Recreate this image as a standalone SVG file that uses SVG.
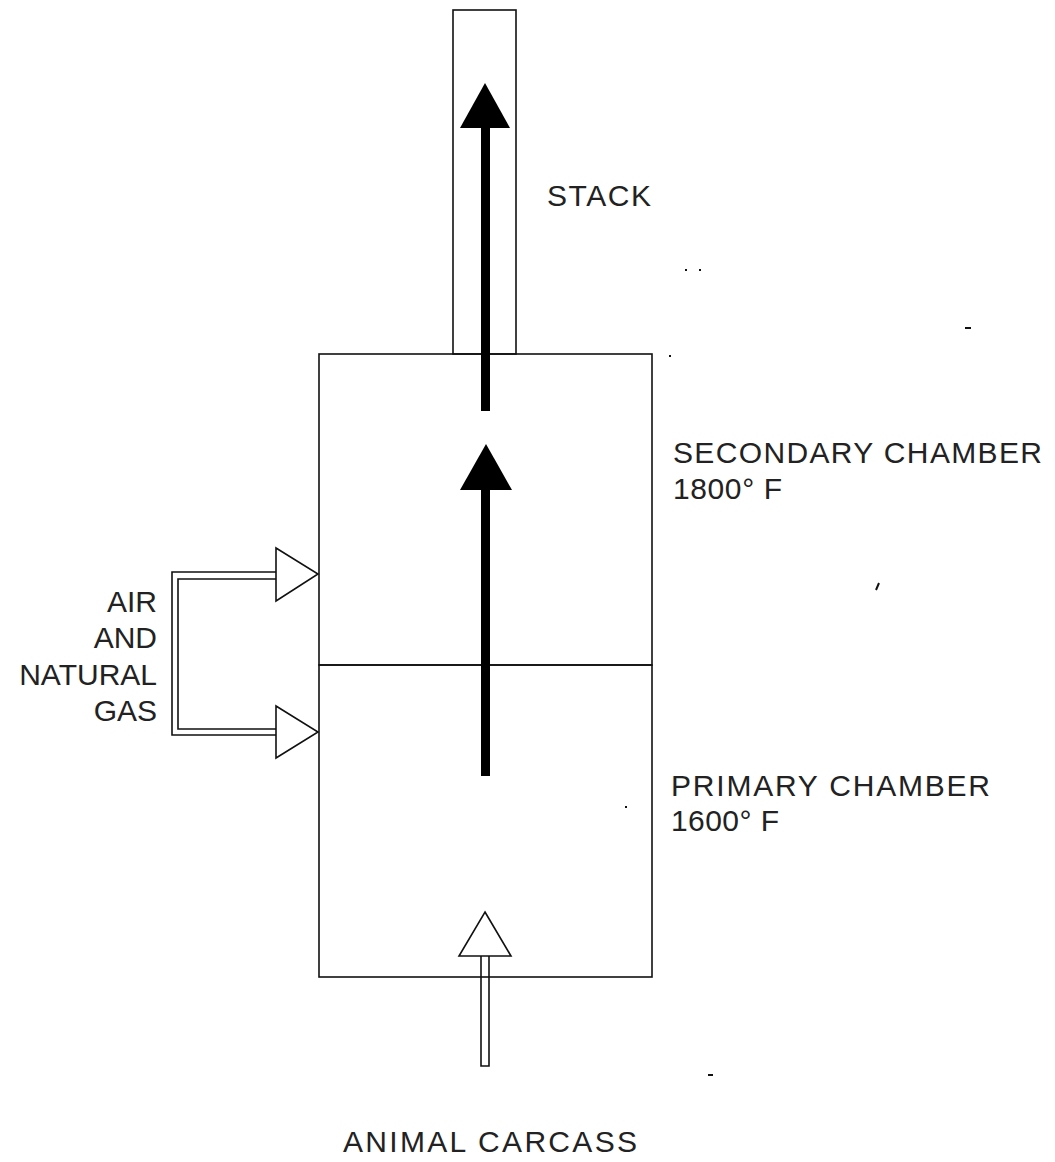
<svg xmlns="http://www.w3.org/2000/svg" width="1055" height="1162" viewBox="0 0 1055 1162">
<style>
.ln{fill:none;stroke:#111;stroke-width:1.6}
.open{fill:#fff;stroke:#111;stroke-width:1.6;stroke-linejoin:miter}
.solid{fill:#000;stroke:none}
.t{font-family:"Liberation Sans",Arial,sans-serif;font-size:30px;fill:#222;font-weight:normal}
.mark{stroke:#111;stroke-width:2;fill:none}
</style>
<rect width="1055" height="1162" fill="#fff"/>
<g id="stack">
<rect class="ln" x="453" y="10" width="63" height="344"/>
<text class="t" x="547" y="206" textLength="104" lengthAdjust="spacing">STACK</text>
</g>
<g id="secondary-chamber">
<rect class="ln" x="319" y="354" width="333" height="311"/>
<text class="t" x="673" y="463" textLength="369" lengthAdjust="spacing">SECONDARY CHAMBER</text>
<text class="t" x="673" y="499" textLength="109" lengthAdjust="spacing">1800° F</text>
</g>
<g id="primary-chamber">
<rect class="ln" x="319" y="665" width="333" height="312"/>
<text class="t" x="671" y="796" textLength="319" lengthAdjust="spacing">PRIMARY CHAMBER</text>
<text class="t" x="671" y="831" textLength="108" lengthAdjust="spacing">1600° F</text>
</g>
<g id="air-gas">
<text class="t" x="157" y="612" text-anchor="end">AIR</text>
<text class="t" x="157" y="648" text-anchor="end">AND</text>
<text class="t" x="157" y="685" text-anchor="end">NATURAL</text>
<text class="t" x="157" y="721" text-anchor="end">GAS</text>
</g>
<g id="carcass">
<text class="t" x="343" y="1152" textLength="294" lengthAdjust="spacing">ANIMAL CARCASS</text>
</g>
<g id="connectors">
<!-- flue gas arrows -->
<rect class="solid" x="481" y="125" width="9" height="286"/>
<polygon class="solid" points="485,83 510,128 460,128"/>
<rect class="solid" x="481" y="486" width="9" height="290"/>
<polygon class="solid" points="486,444 512,490 460,490"/>
<!-- air and gas pipe -->
<path class="ln" d="M276,572 H172 V735 H276 M276,579 H178 V729 H276"/>
<polygon class="open" points="276,548 318,574 276,601"/>
<polygon class="open" points="276,706 318,732 276,758"/>
<!-- carcass feed -->
<path class="ln" d="M481,956 V1066 H489 V956"/>
<polygon class="open" points="485,912 511,956 459,956"/>
</g>
<g id="marks">
<path class="mark" d="M685,270 h2 M699,270 h2 M965,328 h6 M669,356 h2 M879,583 l-3,7 M625,807 h2 M708,1075 h5"/>
</g>
</svg>
